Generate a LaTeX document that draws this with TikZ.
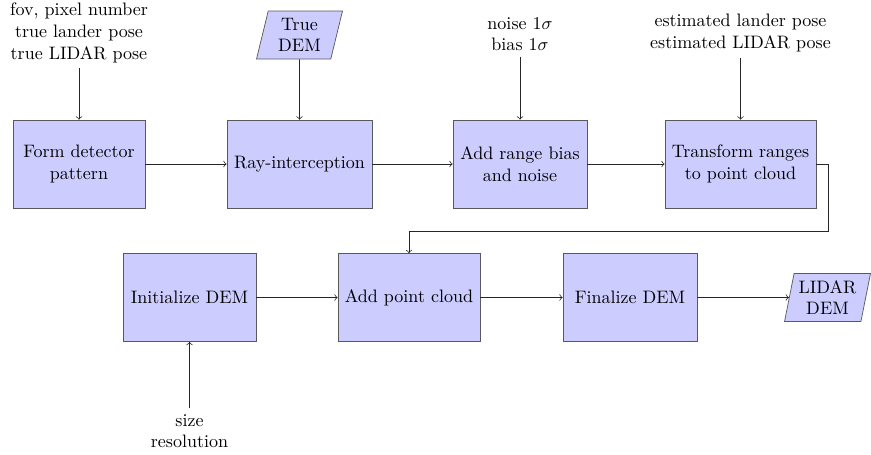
\documentclass[tikz,border=0pt]{standalone}
\usetikzlibrary{shapes.geometric}
\tikzset{
  block/.style={rectangle, draw=black!65, fill=blue!20, align=center,
    minimum height={88*0.555pt}, inner sep=2pt},
  datablock/.style={trapezium, trapezium left angle=77, trapezium right angle=103,
    trapezium stretches=true, draw=black!65, fill=blue!20, align=center,
    minimum width={86*0.555pt}, minimum height={48*0.555pt}, inner sep=1pt},
  inputtext/.style={align=center, inner sep=3pt},
  flow/.style={->, draw=black!85}
}
\begin{document}
\begin{tikzpicture}[x=0.555pt, y=-0.555pt]
  \useasboundingbox (0,0) rectangle (871,454);

  % upper processing chain
  \node[block, minimum width={132*0.555pt}] (form)  at (79,164)    {Form detector\\pattern};
  \node[block, minimum width={145*0.555pt}] (ray)   at (299.5,164) {Ray-interception};
  \node[block, minimum width={134*0.555pt}] (noise) at (520,164)   {Add range bias\\and noise};
  \node[block, minimum width={151*0.555pt}] (trans) at (740.5,164) {Transform ranges\\to point cloud};

  % lower processing chain
  \node[block, minimum width={133*0.555pt}] (init)  at (189.5,297.5) {Initialize DEM};
  \node[block, minimum width={142*0.555pt}] (addpc) at (409,297.5)   {Add point cloud};
  \node[block, minimum width={134*0.555pt}] (final) at (630,297.5)   {Finalize DEM};
  \node[datablock] (lidar) at (827.5,297.5) {LIDAR\\DEM};

  % inputs
  \node[inputtext] (inform)  at (79,33)  {fov, pixel number\\true lander pose\\true LIDAR pose};
  \node[datablock] (truedem) at (299.5,35) {True\\DEM};
  \node[inputtext] (innoise) at (520,34) {noise $1\sigma$\\bias $1\sigma$};
  \node[inputtext] (intrans) at (740.5,33) {estimated lander pose\\estimated LIDAR pose};
  \node[inputtext] (ininit)  at (189.5,431) {size\\resolution};

  \coordinate (turn) at (828,231);

  % connectors
  \draw[flow] (inform) -- (form);
  \draw[flow] (truedem) -- (ray);
  \draw[flow] (innoise) -- (noise);
  \draw[flow] (intrans) -- (trans);
  \draw[flow] (ininit) -- (init);

  \draw[flow] (form) -- (ray);
  \draw[flow] (ray) -- (noise);
  \draw[flow] (noise) -- (trans);
  \draw[flow] (trans.east) -| (turn) -| (addpc.north);
  \draw[flow] (init) -- (addpc);
  \draw[flow] (addpc) -- (final);
  \draw[flow] (final) -- (lidar);
\end{tikzpicture}
\end{document}
